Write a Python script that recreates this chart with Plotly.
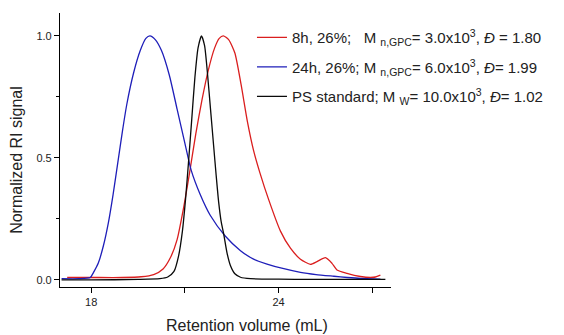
import plotly.graph_objects as go

# 8h, 26%
red_x = [17.23, 18.0, 19.0, 19.6, 20.0, 20.3, 20.55, 20.75, 20.95, 21.15, 21.35, 21.55, 21.75,
         21.95, 22.1, 22.23, 22.4, 22.6, 22.8, 23.0, 23.2, 23.4, 23.68, 24.06, 24.38, 24.7,
         25.02, 25.23, 25.5, 25.71, 25.87, 26.19, 26.62, 26.94, 27.1, 27.26]
red_y = [0.010, 0.010, 0.010, 0.013, 0.022, 0.045, 0.095, 0.165, 0.29, 0.44, 0.60, 0.74, 0.86,
         0.95, 0.99, 1.0, 0.985, 0.93, 0.80, 0.65, 0.53, 0.44, 0.33, 0.20, 0.13, 0.085,
         0.064, 0.075, 0.091, 0.068, 0.041, 0.027, 0.014, 0.010, 0.012, 0.020]

# 24h, 26%
blue_x = [17.05, 17.6, 17.97, 18.07, 18.23, 18.39, 18.55, 18.7, 18.85, 19.0, 19.14, 19.36, 19.57,
          19.75, 19.88, 20.05, 20.25, 20.5, 20.75, 21.0, 21.2, 21.49, 21.81, 22.29, 22.78, 23.2,
          23.63, 24.1, 24.7, 25.2, 25.77, 26.2, 26.62, 27.26]
blue_y = [0.005, 0.005, 0.010, 0.03, 0.07, 0.14, 0.235, 0.35, 0.48, 0.61, 0.72, 0.85, 0.94,
          0.99, 1.0, 0.985, 0.94, 0.84, 0.70, 0.56, 0.45, 0.35, 0.265, 0.18, 0.12, 0.085,
          0.065, 0.048, 0.031, 0.022, 0.015, 0.010, 0.006, 0.003]

# PS standard
black_x = [17.05, 18.0, 19.5, 20.2, 20.45, 20.65, 20.8, 20.92, 21.02, 21.12, 21.22, 21.32, 21.42,
           21.53, 21.63, 21.72, 21.82, 21.92, 22.0, 22.08, 22.16, 22.24, 22.35, 22.46, 22.6,
           22.78, 23.1, 24.0, 25.0, 27.42]
black_y = [0.0, 0.0, 0.002, 0.005, 0.012, 0.035, 0.10, 0.20, 0.33, 0.49, 0.66, 0.83, 0.95,
           1.0, 0.96, 0.85, 0.70, 0.55, 0.43, 0.32, 0.24, 0.19, 0.11, 0.058, 0.025,
           0.011, 0.005, 0.003, 0.002, 0.002]

names = [
    "8h, 26%;   M <sub>n,GPC</sub>= 3.0x10<sup>3</sup>, <i>Đ</i> = 1.80",
    "24h, 26%; M <sub>n,GPC</sub>= 6.0x10<sup>3</sup>, <i>Đ</i>= 1.99",
    "PS standard; M <sub>W</sub>= 10.0x10<sup>3</sup>, <i>Đ</i>= 1.02",
]
colors = ["rgb(218,30,30)", "rgb(30,30,185)", "rgb(10,10,10)"]

x_title = "Retention volume (mL)"
y_title = "Normalized RI signal"
x_tickvals = [18, 24]
x_ticktext = ["18", "24"]
y_tickvals = [0.0, 0.5, 1.0]
y_ticktext = ["0.0", "0.5", "1.0"]

fig = go.Figure()
for i, (xs, ys) in enumerate([(red_x, red_y), (blue_x, blue_y), (black_x, black_y)]):
    fig.add_trace(go.Scatter(x=xs, y=ys, mode="lines", name=names[i],
                             line=dict(color=colors[i], width=1.3, shape="spline", smoothing=0.6),
                             legendgroup=str(i)))

font = "Liberation Sans, Arial, sans-serif"
fig.update_layout(
    width=564, height=335,
    margin=dict(l=60, r=173, t=13, b=48, autoexpand=False),
    paper_bgcolor="white", plot_bgcolor="white",
    font=dict(family=font, color="#222", size=11),
    legend=dict(x=0.58, y=0.97, xanchor="left", yanchor="top", bgcolor="rgba(0,0,0,0)",
                font=dict(size=15, family=font, color="#222"), tracegroupgap=7,
                traceorder="grouped"),
    xaxis=dict(range=[17.0, 27.6], showline=True, linecolor="black", linewidth=1.2,
               showgrid=False, zeroline=False, ticks="outside", ticklen=5, tickcolor="black",
               tickvals=x_tickvals, ticktext=x_ticktext, tickfont=dict(size=11),
               automargin=False,
               minor=dict(tickvals=[21, 27], ticks="outside", ticklen=5, tickcolor="black")),
    yaxis=dict(range=[-0.029, 1.094], showline=True, linecolor="black", linewidth=1.2,
               showgrid=False, zeroline=False, ticks="outside", ticklen=5, tickcolor="black",
               tickvals=y_tickvals, ticktext=y_ticktext, tickfont=dict(size=11),
               automargin=False,
               minor=dict(tickvals=[0.25, 0.75], ticks="outside", ticklen=3, tickcolor="black")),
    annotations=[
        dict(text=x_title, xref="paper", yref="paper", x=0.565, y=-0.139,
             xanchor="center", yanchor="middle", showarrow=False,
             font=dict(size=16, family=font, color="#222")),
        dict(text=y_title, xref="paper", yref="paper", x=-0.13, y=0.464, textangle=-90,
             xanchor="center", yanchor="middle", showarrow=False,
             font=dict(size=16, family=font, color="#222")),
    ],
)

fig.write_html("out.html")
